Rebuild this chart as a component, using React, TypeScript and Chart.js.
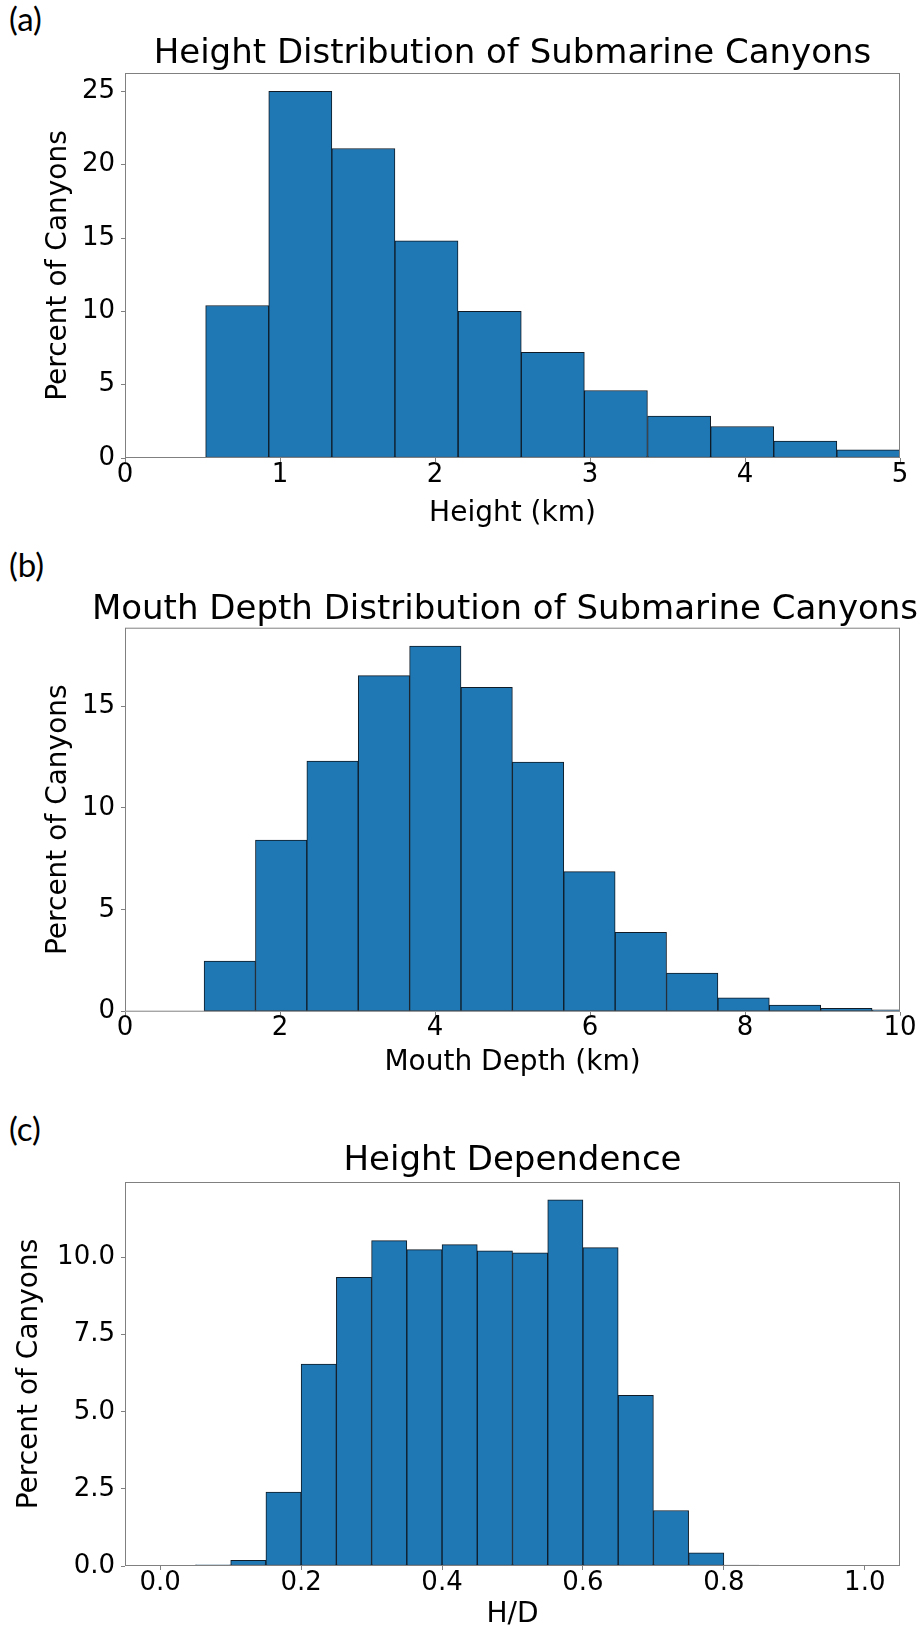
import React, { useEffect, useRef } from 'react';
import { Chart, registerables } from 'chart.js';

Chart.register(...registerables);

// ---------- Data ----------
// (a) Height distribution: bin centres (km) and percent of canyons
const HEIGHT_BIN_CENTERS = [0.724, 1.131, 1.538, 1.945, 2.353, 2.76, 3.167, 3.575, 3.982, 4.389, 4.796];
const HEIGHT_PERCENT = [10.4, 25.0, 21.1, 14.8, 10.0, 7.2, 4.6, 2.85, 2.15, 1.15, 0.55];
const HEIGHT_X_TICKS = [0, 1, 2, 3, 4, 5];
const HEIGHT_Y_TICKS = [0, 5, 10, 15, 20, 25];

// (b) Mouth depth distribution
const DEPTH_BIN_CENTERS = [1.352, 2.015, 2.678, 3.341, 4.004, 4.667, 5.33, 5.993, 6.656, 7.319, 7.982, 8.645, 9.308, 9.971];
const DEPTH_PERCENT = [2.48, 8.42, 12.3, 16.5, 17.95, 15.92, 12.25, 6.88, 3.9, 1.9, 0.68, 0.32, 0.17, 0.09];
const DEPTH_X_TICKS = [0, 2, 4, 6, 8, 10];
const DEPTH_Y_TICKS = [0, 5, 10, 15];

// (c) Height dependence (H/D)
const RATIO_BIN_CENTERS = [0.025, 0.075, 0.125, 0.175, 0.225, 0.275, 0.325, 0.375, 0.425, 0.475, 0.525, 0.575, 0.625, 0.675, 0.725, 0.775, 0.825, 0.875, 0.925, 0.975];
const RATIO_PERCENT = [0.01, 0.04, 0.18, 2.4, 6.55, 9.36, 10.55, 10.26, 10.42, 10.22, 10.15, 11.87, 10.32, 5.53, 1.8, 0.43, 0.03, 0, 0, 0];
const RATIO_X_TICKS = [0, 0.2, 0.4, 0.6, 0.8, 1.0];
const RATIO_Y_TICKS = [0, 2.5, 5, 7.5, 10];

const FONT = "'DejaVu Sans', sans-serif";
const BAR_FILL = '#1f77b4';
const BAR_EDGE = '#0f1b26';
const SPINE = '#808080';

const spinesPlugin = {
  id: 'spines',
  afterDatasetsDraw(chart: any) {
    const { ctx, chartArea } = chart;
    ctx.save();
    ctx.strokeStyle = SPINE;
    ctx.lineWidth = 1;
    ctx.strokeRect(chartArea.left + 0.5, chartArea.top + 0.5, chartArea.right - chartArea.left - 1, chartArea.bottom - chartArea.top - 1);
    ctx.restore();
  },
};

const titleSpanPlugin = {
  id: 'titleSpan',
  afterLayout(chart: any, _args: any, opts: any) {
    const tb = chart.titleBlock;
    if (tb && opts && typeof opts.left === 'number') {
      tb.left = opts.left;
      tb.right = opts.right;
      tb.width = opts.right - opts.left;
    }
  },
};

type PanelSpec = {
  label: string;
  labelTop: number;
  top: number;
  height: number;
  title: string;
  titlePad: { top: number; bottom: number };
  titleSpan?: { left: number; right: number };
  xTitle: string;
  xTitlePadBottom: number;
  xAxisHeight: number;
  yTitlePadTop: number;
  centers: number[];
  values: number[];
  xMin: number;
  xMax: number;
  xTicks: number[];
  yMax: number;
  yTicks: number[];
  decimals: number;
};

function buildConfig(p: PanelSpec): any {
  const fmt = (v: any) => (p.decimals > 0 ? Number(v).toFixed(p.decimals) : String(v));
  return {
    type: 'bar',
    data: {
      datasets: [
        {
          data: p.centers.map((x, i) => ({ x, y: p.values[i] })),
          backgroundColor: BAR_FILL,
          borderColor: BAR_EDGE,
          borderWidth: 1,
          borderSkipped: false,
          categoryPercentage: 1,
          barPercentage: 1,
          clip: 0,
        },
      ],
    },
    options: {
      responsive: false,
      animation: false,
      devicePixelRatio: 1,
      events: [],
      layout: { padding: { left: 0, right: 24, top: 0, bottom: 0 } },
      plugins: {
        legend: { display: false },
        tooltip: { enabled: false },
        title: {
          display: true,
          text: p.title,
          fullSize: false,
          color: '#000',
          font: { family: FONT, size: 34, weight: 'normal', lineHeight: 1 },
          padding: p.titlePad,
        },
        titleSpan: p.titleSpan ? { left: p.titleSpan.left, right: p.titleSpan.right } : {},
      },
      scales: {
        x: {
          type: 'linear',
          min: p.xMin,
          max: p.xMax,
          offset: false,
          afterBuildTicks: (s: any) => {
            s.ticks = p.xTicks.map((v) => ({ value: v }));
          },
          afterFit: (s: any) => {
            s.height = p.xAxisHeight;
          },
          ticks: {
            color: '#000',
            font: { family: FONT, size: 26, lineHeight: 1 },
            padding: 0,
            autoSkip: false,
            maxRotation: 0,
            callback: (v: any) => fmt(v),
          },
          grid: { display: true, offset: false, drawOnChartArea: false, drawTicks: true, tickLength: 4, color: SPINE },
          border: { display: false },
          title: {
            display: true,
            text: p.xTitle,
            color: '#000',
            font: { family: FONT, size: 28, lineHeight: 1 },
            padding: { top: 0, bottom: p.xTitlePadBottom },
          },
        },
        y: {
          type: 'linear',
          min: 0,
          max: p.yMax,
          afterBuildTicks: (s: any) => {
            s.ticks = p.yTicks.map((v) => ({ value: v }));
          },
          afterFit: (s: any) => {
            s.width = 125;
          },
          ticks: {
            color: '#000',
            font: { family: FONT, size: 26, lineHeight: 1 },
            padding: 6,
            autoSkip: false,
            callback: (v: any) => fmt(v),
          },
          grid: { display: true, drawOnChartArea: false, drawTicks: true, tickLength: 4, color: SPINE },
          border: { display: false },
          title: {
            display: true,
            text: 'Percent of Canyons',
            color: '#000',
            font: { family: FONT, size: 28, lineHeight: 1 },
            padding: { top: p.yTitlePadTop, bottom: 0 },
          },
        },
      },
    },
    plugins: [spinesPlugin, titleSpanPlugin],
  };
}

const PANELS: PanelSpec[] = [
  {
    label: '(a)',
    labelTop: 2,
    top: 0,
    height: 540,
    title: 'Height Distribution of Submarine Canyons',
    titlePad: { top: 37.2, bottom: 1.8 },
    xTitle: 'Height (km)',
    xTitlePadBottom: 12.7,
    xAxisHeight: 82,
    yTitlePadTop: 44.6,
    centers: HEIGHT_BIN_CENTERS,
    values: HEIGHT_PERCENT,
    xMin: 0,
    xMax: 5,
    xTicks: HEIGHT_X_TICKS,
    yMax: 26.25,
    yTicks: HEIGHT_Y_TICKS,
    decimals: 0,
  },
  {
    label: '(b)',
    labelTop: 548,
    top: 540,
    height: 550,
    title: 'Mouth Depth Distribution of Submarine Canyons',
    titlePad: { top: 53.2, bottom: 0.5 },
    titleSpan: { left: 86, right: 924 },
    xTitle: 'Mouth Depth (km)',
    xTitlePadBottom: 13.7,
    xAxisHeight: 78.3,
    yTitlePadTop: 44.6,
    centers: DEPTH_BIN_CENTERS,
    values: DEPTH_PERCENT,
    xMin: 0,
    xMax: 10,
    xTicks: DEPTH_X_TICKS,
    yMax: 18.85,
    yTicks: DEPTH_Y_TICKS,
    decimals: 0,
  },
  {
    label: '(c)',
    labelTop: 1112,
    top: 1090,
    height: 539,
    title: 'Height Dependence',
    titlePad: { top: 54.2, bottom: 3.8 },
    xTitle: 'H/D',
    xTitlePadBottom: 0,
    xAxisHeight: 63,
    yTitlePadTop: 16,
    centers: RATIO_BIN_CENTERS,
    values: RATIO_PERCENT,
    xMin: -0.05,
    xMax: 1.05,
    xTicks: RATIO_X_TICKS,
    yMax: 12.45,
    yTicks: RATIO_Y_TICKS,
    decimals: 1,
  },
];

function Panel({ spec }: { spec: PanelSpec }) {
  const ref = useRef<HTMLCanvasElement | null>(null);
  useEffect(() => {
    if (!ref.current) return;
    const chart = new Chart(ref.current, buildConfig(spec));
    return () => chart.destroy();
  }, [spec]);
  return (
    <>
      <div
        style={{
          position: 'absolute',
          left: 9,
          top: spec.labelTop,
          fontFamily: 'Lato, sans-serif',
          fontSize: 33,
          lineHeight: '33px',
          color: '#000',
        }}
      >
        {spec.label}
      </div>
      <canvas
        ref={ref}
        width={924}
        height={spec.height}
        style={{ position: 'absolute', left: 0, top: spec.top, width: 924, height: spec.height }}
      />
    </>
  );
}

export default function App() {
  return (
    <div
      style={{
        position: 'absolute',
        left: 0,
        top: 0,
        width: 924,
        height: 1629,
        overflow: 'hidden',
        background: '#fff',
      }}
    >
      {PANELS.map((p) => (
        <Panel key={p.label} spec={p} />
      ))}
    </div>
  );
}
